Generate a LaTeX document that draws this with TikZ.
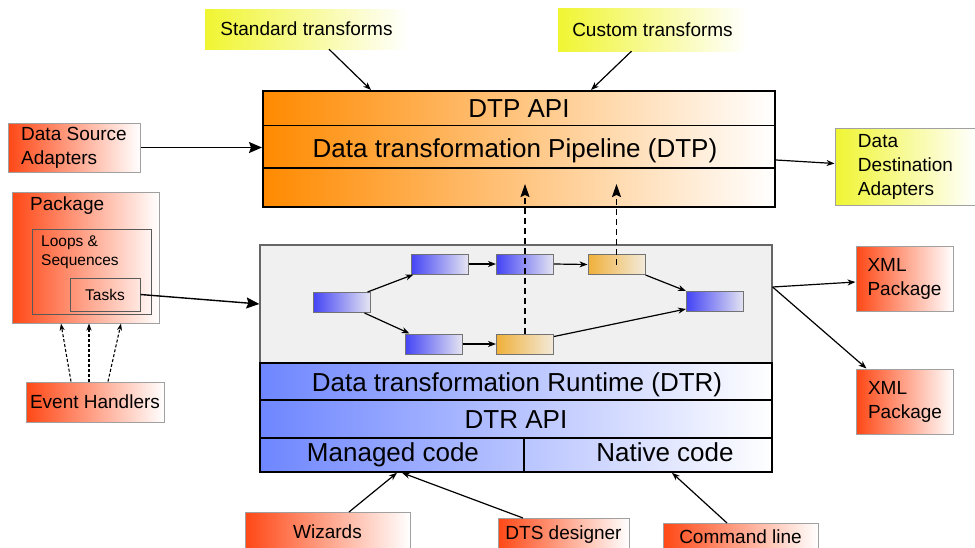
\documentclass[tikz,border=0pt]{standalone}
\usepackage{fontspec}
\setmainfont{Liberation Sans}
\usetikzlibrary{arrows.meta}

\definecolor{redL}{RGB}{255,72,22}
\definecolor{yelL}{RGB}{240,245,50}
\definecolor{orgL}{RGB}{255,138,0}
\definecolor{bluL}{RGB}{110,134,255}
\definecolor{nodeB}{RGB}{68,68,245}
\definecolor{nodeBR}{RGB}{228,228,242}
\definecolor{nodeO}{RGB}{240,176,58}
\definecolor{nodeOR}{RGB}{242,234,218}
\definecolor{gbg}{RGB}{240,240,240}
\definecolor{edgegray}{RGB}{160,160,160}

\begin{document}
\begin{tikzpicture}[x=1pt,y=-1pt,
  lbl/.style={font=\fontsize{19}{24}\selectfont},
  big/.style={font=\fontsize{26}{30}\selectfont, inner sep=0pt, anchor=base},
  small/.style={font=\fontsize{15.5}{19}\selectfont},
  redbox/.style={draw=edgegray, line width=1pt, left color=redL, right color=white,
                 inner sep=0pt, align=left},
  yelbox/.style={left color=yelL, right color=white, inner sep=0pt, align=left},
  cutbox/.style={redbox, anchor=north, lbl, align=center},
  frame/.style={draw=black!65, line width=1pt, inner sep=0pt},
  task/.style={draw=black!55, line width=1pt, minimum width=57pt, minimum height=20pt, inner sep=0pt},
  tblue/.style={task, left color=nodeB, right color=nodeBR},
  torange/.style={task, left color=nodeO, right color=nodeOR},
  thin arrow/.style={line width=1.2pt, -{Stealth[length=8pt,width=6pt,inset=2.5pt]}},
  bold arrow/.style={line width=1.4pt, -{Stealth[length=13pt,width=11pt,inset=2pt]}},
  up arrow/.style={line width=1.5pt, dash pattern=on 6pt off 4pt,
                   -{Stealth[length=13pt,width=9pt,inset=2pt]}},
  evt arrow/.style={line width=1.1pt, dash pattern=on 3pt off 2pt,
                    -{Stealth[length=7pt,width=5pt,inset=2pt]}}
]
\useasboundingbox (0,0) rectangle (975,547);
\fill[white] (0,0) rectangle (975,547);

% transform sources
\node[yelbox, lbl, minimum width=203pt, minimum height=40pt] (std) at (306.5,29) {Standard transforms};
\node[yelbox, lbl, minimum width=189pt, minimum height=43pt] (cust) at (652.5,29.5) {Custom transforms};

% pipeline block
\node[draw, line width=2pt, left color=orgL, right color=white,
      minimum width=512pt, minimum height=116pt, inner sep=0pt] (dtp) at (519,149) {};
\draw[line width=1.4pt] (dtp.west |- 0,125.5) -- (dtp.east |- 0,125.5);
\draw[line width=1.4pt] (dtp.west |- 0,168) -- (dtp.east |- 0,168);
\node[big] (dtpapi) at (519,117) {DTP API};
\node[big] (dtppipe) at (515,157) {Data transformation Pipeline (DTP)};

% adapters
\node[redbox, lbl, minimum width=132pt, minimum height=49pt] (dsa) at (74,147.5) {Data Source\\Adapters};
\node[yelbox, draw=edgegray, line width=1pt, lbl, minimum width=141pt, minimum height=77pt] (dda) at (905.5,166.5) {Data\\Destination\\Adapters};

% package with its containers
\node[redbox, minimum width=147pt, minimum height=131pt] (pkg) at (85.5,257.5) {};
\node[lbl, inner sep=0pt, anchor=west] (pkglbl) at (30,206) {Package};
\node[frame, minimum width=119pt, minimum height=85pt] (loops) at (91.5,271.5) {};
\node[small, inner sep=0pt, anchor=north west, align=left] (loopslbl) at (41,236) {Loops \&\\Sequences};
\node[frame, small, minimum width=70pt, minimum height=33pt] (tasks) at (105,294.5) {Tasks};
\node[redbox, lbl, align=center, minimum width=138pt, minimum height=40pt] (evh) at (95,402) {Event Handlers};

% runtime: task graph area and layers
\node[draw=black!60, line width=1.2pt, fill=gbg, minimum width=512pt, minimum height=118pt, inner sep=0pt] (gbox) at (516,304) {};
\node[draw, line width=1.6pt, left color=bluL, right color=white,
      minimum width=512pt, minimum height=109pt, inner sep=0pt] (dtr) at (516,417.5) {};
\draw[line width=1.2pt] (dtr.west |- 0,400) -- (dtr.east |- 0,400);
\draw[line width=1.2pt] (dtr.west |- 0,438) -- (dtr.east |- 0,438);
\draw[line width=1.2pt] (524,438) -- (dtr.south -| 524,0);
\node[big] (dtrname) at (517,391) {Data transformation Runtime (DTR)};
\node[big] (dtrapi) at (516,428.5) {DTR API};
\node[big] (managed) at (393,461.5) {Managed code};
\node[big] (native) at (665,461.5) {Native code};

% task graph
\node[tblue] (n1) at (341.5,302.5) {};
\node[tblue] (n2) at (439.5,264) {};
\node[tblue] (n3) at (525,264) {};
\node[torange] (n4) at (616.5,264.5) {};
\node[tblue] (n5) at (715,301.5) {};
\node[tblue] (n6) at (433.5,344) {};
\node[torange] (n7) at (525,344) {};
\draw[thin arrow] ([xshift=-3pt]n1.north east) -- ([xshift=3pt]n2.south west);
\draw[thin arrow] ([xshift=-6pt]n1.south east) -- ([xshift=5pt]n6.north west);
\draw[thin arrow] (n2.east) -- (n3.west);
\draw[thin arrow] (n3.east) -- (n4.west);
\draw[thin arrow] (n4.south east) -- (n5.north west);
\draw[thin arrow] (n6.east) -- (n7.west);
\draw[thin arrow] ([yshift=-3pt]n7.north east) -- ([yshift=3pt]n5.south west);

% links into the pipeline
\coordinate (upA) at (525,184);
\draw[up arrow] (n7.north) -- (upA);
\draw[up arrow] (n4.center) -- (n4.center |- upA);

% packages written out
\node[redbox, lbl, minimum width=97pt, minimum height=65pt] (xml1) at (904.5,278.5) {XML\\Package};
\node[redbox, lbl, minimum width=97pt, minimum height=65pt] (xml2) at (905,401.5) {XML\\Package};

% clients of the runtime
\node[cutbox, minimum width=165pt, inner ysep=0pt, text height=26pt, text depth=16pt] (wiz) at (327.5,512) {Wizards};
\node[cutbox, minimum width=131pt, inner ysep=0pt, text height=21pt, text depth=15pt] (dts) at (563.5,518) {DTS designer};
\node[cutbox, minimum width=155pt, inner ysep=0pt, text height=20pt, text depth=12pt] (cmd) at (740.5,523) {Command line};

% connectors
\draw[thin arrow] ([xshift=22.5pt]std.south) -- (dtp.north -| 371,0);
\draw[thin arrow] ([xshift=-21pt]cust.south) -- (dtp.north -| 591,0);
\draw[bold arrow] (dsa.east) -- (dsa.east -| dtp.west);
\draw[thin arrow] ([yshift=-11pt]dtp.east) -- ([yshift=3pt]dda.west);
\draw[bold arrow] (tasks.east) -- (gbox.west);
\draw[evt arrow] ([xshift=-24pt]evh.north) -- ([xshift=-24.5pt]pkg.south);
\draw[evt arrow] ([xshift=-6pt]evh.north) -- ([xshift=3.5pt]pkg.south);
\draw[evt arrow] ([xshift=13pt]evh.north) -- ([xshift=35.5pt]pkg.south);
\draw[thin arrow] ([yshift=17pt]gbox.east) -- ([yshift=-3.5pt]xml1.west);
\draw[thin arrow] ([yshift=17pt]gbox.east) -- ([xshift=10.5pt]xml2.north west);
\draw[thin arrow] ([xshift=21.5pt]wiz.north) -- ([xshift=-119pt]dtr.south);
\draw[thin arrow] ([xshift=-40.5pt]dts.north) -- ([xshift=-114pt]dtr.south);
\draw[thin arrow] ([xshift=-13.5pt]cmd.north) -- ([xshift=156pt]dtr.south);
\end{tikzpicture}
\end{document}
